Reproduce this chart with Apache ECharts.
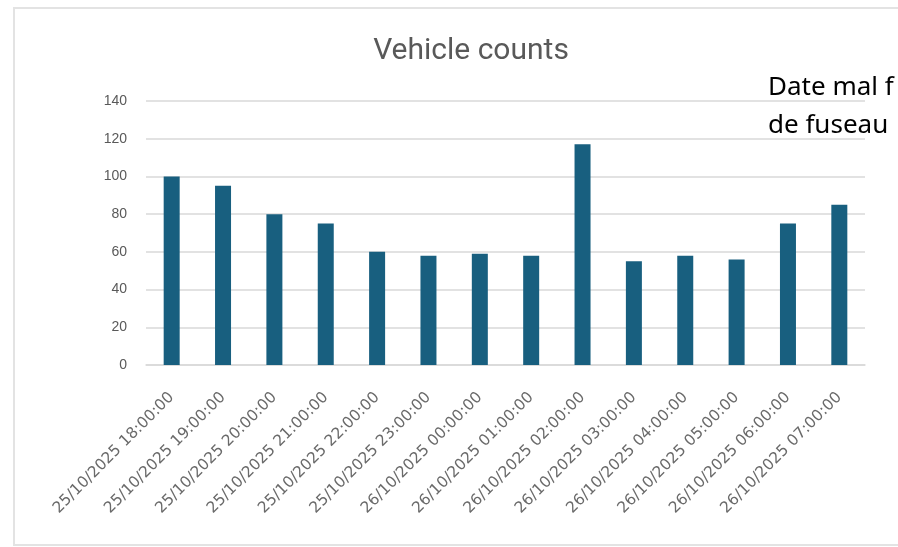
<!DOCTYPE html>
<html>
<head>
<meta charset="utf-8">
<script src="https://cdn.jsdelivr.net/npm/echarts@6/dist/echarts.min.js"></script>
<style>
  html, body { margin: 0; padding: 0; background: #fff; }
  #main { width: 898px; height: 547px; }
</style>
</head>
<body>
<div id="main"></div>
<script>
// data
var hours = [
  '25/10/2025 18:00:00', '25/10/2025 19:00:00', '25/10/2025 20:00:00',
  '25/10/2025 21:00:00', '25/10/2025 22:00:00', '25/10/2025 23:00:00',
  '26/10/2025 00:00:00', '26/10/2025 01:00:00', '26/10/2025 02:00:00',
  '26/10/2025 03:00:00', '26/10/2025 04:00:00', '26/10/2025 05:00:00',
  '26/10/2025 06:00:00', '26/10/2025 07:00:00'
];
var counts = [100, 95, 80, 75, 60, 58, 59, 58, 117, 55, 58, 56, 75, 85];
var yTicks = [0, 20, 40, 60, 80, 100, 120, 140];
var note = ['Date mal f', 'de fuseau'];

var chart = echarts.init(document.getElementById('main'));

chart.setOption({
  animation: false,
  title: {
    text: 'Vehicle counts',
    left: 466,
    top: 31,
    textAlign: 'center',
    textStyle: {
      color: '#595959',
      fontSize: 30,
      fontWeight: 'normal',
      fontFamily: 'Roboto, sans-serif'
    }
  },
  graphic: [
    {
      type: 'rect',
      shape: { x: 14, y: 8, width: 900, height: 537 },
      style: { fill: null, stroke: '#e3e3e3', lineWidth: 2 },
      silent: true
    },
    {
      type: 'text',
      left: 768,
      top: 69,
      style: {
        text: note.join('\n'),
        fill: '#000',
        fontSize: 26,
        lineHeight: 38,
        fontFamily: '"Noto Sans", "Open Sans", sans-serif'
      }
    }
  ],
  grid: {
    left: 146,
    right: 33,
    top: 101,
    bottom: 182
  },
  xAxis: {
    type: 'category',
    data: hours,
    axisTick: { show: false },
    axisLine: { lineStyle: { color: '#d9d9d9', width: 1.5 } },
    axisLabel: {
      rotate: 45,
      interval: 0,
      margin: 30,
      color: '#6a6a6a',
      fontSize: 15.5,
      fontFamily: '"DejaVu Sans", sans-serif'
    }
  },
  yAxis: {
    type: 'value',
    min: yTicks[0],
    max: yTicks[yTicks.length - 1],
    interval: yTicks[1] - yTicks[0],
    axisLine: { show: false },
    axisTick: { show: false },
    axisLabel: {
      margin: 19,
      color: '#595959',
      fontSize: 14,
      fontFamily: '"Liberation Sans", "Roboto", sans-serif'
    },
    splitLine: { lineStyle: { color: '#d9d9d9', width: 1.5 } }
  },
  series: [{
    type: 'bar',
    data: counts,
    barWidth: 16,
    itemStyle: { color: '#185f7f' }
  }]
});
</script>
</body>
</html>
